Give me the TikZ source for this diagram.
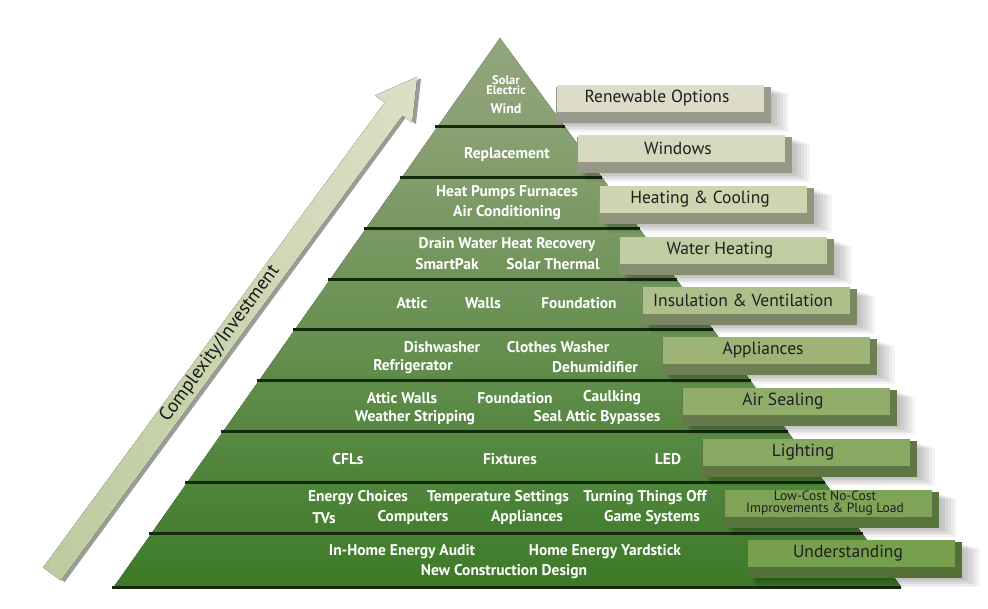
\documentclass[tikz,border=0pt]{standalone}
\usepackage{fontspec}
\setmainfont{PT Sans}
\definecolor{bandtop}{HTML}{8AA073}
\definecolor{bandbot}{HTML}{3B7926}
\definecolor{bandline}{HTML}{142A0B}
\definecolor{arrowlow}{HTML}{BCCB9E}
\definecolor{arrowhigh}{HTML}{DCDFC5}
\definecolor{arrowside}{HTML}{9A9C98}
\definecolor{boxc1}{HTML}{DCDCC8}
\definecolor{boxc2}{HTML}{D7D9BE}
\definecolor{boxc3}{HTML}{CFD5B1}
\definecolor{boxc4}{HTML}{C0CCA2}
\definecolor{boxc5}{HTML}{ADBF8A}
\definecolor{boxc6}{HTML}{9CB577}
\definecolor{boxc7}{HTML}{90AE6A}
\definecolor{boxc8}{HTML}{87A961}
\definecolor{boxc9}{HTML}{7FA457}
\definecolor{boxc10}{HTML}{77A04D}
\tikzset{
  layertext/.style={text=white, font=\bfseries\fontsize{15.5}{16}\selectfont, inner sep=0pt},
  boxtext/.style={text=black!88, font=\fontsize{17.5}{18}\selectfont, inner sep=0pt},
  smallbox/.style={text=black!88, font=\fontsize{13.5}{12}\selectfont, inner sep=0pt, align=center},
  sepline/.style={bandline, line width=3pt},
}
\begin{document}
\begin{tikzpicture}[x=1pt,y=1pt]
\useasboundingbox[fill=white] (0,0) rectangle (988,608);

\foreach \i/\t/\b in {1/38/127,2/127/178,3/178/229,4/229/280,5/280/330,6/330/381,7/381/432,8/432/483,9/483/534,10/534/587}{
  \pgfmathsetmacro\xlt{500-0.7036*(\t-38)}
  \pgfmathsetmacro\xrt{500+0.7309*(\t-38)}
  \pgfmathsetmacro\xlb{500-0.7036*(\b-38)}
  \pgfmathsetmacro\xrb{500+0.7309*(\b-38)}
  \pgfmathtruncatemacro\p{(\i-1)*100/9}
  \colorlet{bandc}{bandbot!\p!bandtop}
  \fill[top color=bandc!94!white, bottom color=bandc] (\xlt,608-\t) -- (\xrt,608-\t) -- (\xrb,608-\b) -- (\xlb,608-\b) -- cycle;
}
\foreach \b in {127,178,229,280,330,381,432,483,534,587}{
  \draw[sepline] ({500-0.7036*(\b-38)-2},608-\b) -- ({500+0.7309*(\b-38)},608-\b);
}

\node[layertext, font=\bfseries\fontsize{12.5}{12}\selectfont] (solar) at (506,528) {Solar};
\node[layertext, font=\bfseries\fontsize{12.5}{12}\selectfont] (electric) at (506,518) {Electric};
\node[layertext, font=\bfseries\fontsize{14}{14}\selectfont] (wind) at (506,499) {Wind};
\node[layertext] (repl) at (507,453) {Replacement};
\node[layertext] (heatpumps) at (507,415) {Heat Pumps Furnaces};
\node[layertext] (aircond) at (507,395) {Air Conditioning};
\node[layertext] (drain) at (507,363) {Drain Water Heat Recovery};
\node[layertext] (smartpak) at (447,344) {SmartPak};
\node[layertext] (solartherm) at (553,344) {Solar Thermal};
\node[layertext] (attic) at (412,305) {Attic};
\node[layertext] (walls) at (483,305) {Walls};
\node[layertext] (found) at (579,305) {Foundation};
\node[layertext] (dishw) at (442,261) {Dishwasher};
\node[layertext] (clothes) at (558,261) {Clothes Washer};
\node[layertext] (fridge) at (413,241) {Refrigerator};
\node[layertext] (dehum) at (595,241) {Dehumidifier};
\node[layertext] (atticwalls) at (402,210) {Attic Walls};
\node[layertext] (found2) at (515,210) {Foundation};
\node[layertext] (caulk) at (612,210) {Caulking};
\node[layertext] (weather) at (415,190) {Weather Stripping};
\node[layertext] (seal) at (597,190) {Seal Attic Bypasses};
\node[layertext] (cfl) at (348,149) {CFLs};
\node[layertext] (fixt) at (510,149) {Fixtures};
\node[layertext] (led) at (668,149) {LED};
\node[layertext] (choices) at (358,110) {Energy Choices};
\node[layertext] (temp) at (498,110) {Temperature Settings};
\node[layertext] (turning) at (645,110) {Turning Things Off};
\node[layertext] (tvs) at (324,90) {TVs};
\node[layertext] (comp) at (413,90) {Computers};
\node[layertext] (appl) at (527,90) {Appliances};
\node[layertext] (games) at (652,90) {Game Systems};
\node[layertext] (audit) at (402,56) {In-Home Energy Audit};
\node[layertext] (yard) at (605,56) {Home Energy Yardstick};
\node[layertext] (newcon) at (504,36) {New Construction Design};

\foreach \n/\x/\y/\s/\t in {1/557/85/boxtext/Renewable Options, 2/578/135/boxtext/Windows,
    3/600/186/boxtext/Heating \& Cooling, 4/620/237/boxtext/Water Heating,
    5/643/287/boxtext/Insulation \& Ventilation, 6/663/337/boxtext/Appliances,
    7/683/388/boxtext/Air Sealing, 8/703/439/boxtext/Lighting,
    9/725/490/smallbox/Low-Cost No-Cost\\Improvements \& Plug Load, 10/748/540/boxtext/Understanding}{
  \foreach \k in {1,...,6}
    \fill[black, opacity=0.045] ({\x+2+\k},{608-\y-38-1.5*\k}) rectangle ({\x+214+3*\k},{608-\y-3-\k});
  \fill[boxc\n!70!black] (\x-1,608-\y-38) rectangle (\x+214,608-\y-2);
  \fill[boxc\n] (\x,608-\y-27) rectangle (\x+207,608-\y);
  \node[\s] (lbl\n) at (\x+100,608-\y-13.5) {\t};
}

\begin{scope}[shift={(52,34)}, rotate=53.7]
\fill[arrowside, shift={(1,-4)}] (0,-11) -- (577,-11) -- (577,-23) -- (617,0) -- (577,23) -- (577,11) -- (0,11) -- cycle;
\fill[left color=arrowlow, right color=arrowhigh] (0,-11) -- (577,-11) -- (577,-23) -- (617,0) -- (577,23) -- (577,11) -- (0,11) -- cycle;
\node[text=black!90, font=\fontsize{19}{20}\selectfont, inner sep=0pt, rotate=53.7] (cinv) at (285,1) {Complexity/Investment};
\end{scope}
\end{tikzpicture}
\end{document}
